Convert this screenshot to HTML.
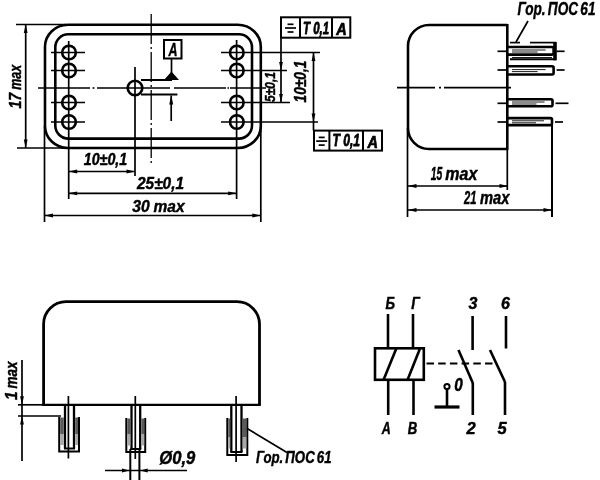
<!DOCTYPE html>
<html lang="ru">
<head>
<meta charset="utf-8">
<title>Габаритный чертёж реле</title>
<style>
html,body{margin:0;padding:0;background:#fff;}
body{width:600px;height:480px;overflow:hidden;}
svg{display:block;}
svg *{vector-effect:none;}
svg line,svg rect,svg circle,svg path{fill:none;stroke:#000;stroke-linecap:butt;}
svg .f{fill:#000;stroke:none;}
svg rect.h{fill:#5a5a5a;stroke:none;}
svg rect.h2{fill:#a8a8a8;stroke:none;}
svg text{font-family:"Liberation Sans",sans-serif;font-style:italic;fill:#000;stroke:#000;stroke-width:0.45px;stroke-linejoin:round;}
</style>
</head>
<body>
<svg width="600" height="480" viewBox="0 0 600 480">
<rect x="0" y="0" width="600" height="480" style="fill:#fff;stroke:none"/>
<g filter="url(#b)">
<!-- top view -->
<rect x="45" y="24.8" width="215.8" height="123.2" rx="23" ry="22" stroke-width="2.6"/>
<rect x="55.3" y="34.3" width="196.7" height="104.3" rx="13" ry="13" stroke-width="2.6"/>
<circle cx="69" cy="52.5" r="6.8" stroke-width="2.6"/>
<circle cx="69" cy="70.5" r="6.8" stroke-width="2.6"/>
<circle cx="69" cy="102.5" r="6.8" stroke-width="2.6"/>
<circle cx="69" cy="122" r="6.8" stroke-width="2.6"/>
<circle cx="236.8" cy="52.5" r="6.8" stroke-width="2.6"/>
<circle cx="236.8" cy="70.5" r="6.8" stroke-width="2.6"/>
<circle cx="236.8" cy="102.5" r="6.8" stroke-width="2.6"/>
<circle cx="236.8" cy="122" r="6.8" stroke-width="2.6"/>
<line x1="51" y1="52.5" x2="85" y2="52.5" stroke-width="1.7" />
<line x1="51" y1="70.5" x2="85" y2="70.5" stroke-width="1.7" />
<line x1="51" y1="102.5" x2="85" y2="102.5" stroke-width="1.7" />
<line x1="51" y1="122" x2="85" y2="122" stroke-width="1.7" />
<line x1="68.7" y1="41" x2="68.7" y2="178" stroke-width="1.7" />
<line x1="236.6" y1="40" x2="236.6" y2="199" stroke-width="1.7" />
<line x1="221" y1="52.5" x2="320" y2="52.5" stroke-width="1.7" />
<line x1="221" y1="70.5" x2="287" y2="70.5" stroke-width="1.7" />
<line x1="221" y1="102.5" x2="290" y2="102.5" stroke-width="1.7" />
<line x1="221" y1="122" x2="318" y2="122" stroke-width="1.7" />
<line x1="38" y1="88" x2="266" y2="88" stroke-width="1.3" stroke-dasharray="52 2.5 2 2.5 73 4 52 1.5 1.5 1 40"/>
<line x1="151.2" y1="14" x2="151.2" y2="164" stroke-width="1.3" stroke-dasharray="30 3 2 3"/>
<circle cx="135" cy="88" r="7.3" stroke-width="2.6"/>
<line x1="135" y1="67" x2="135" y2="176" stroke-width="1.7" />
<line x1="141" y1="80" x2="172" y2="80" stroke-width="2.0" />
<line x1="141" y1="94.4" x2="177.4" y2="94.4" stroke-width="2.0" />
<rect x="164" y="40" width="17.5" height="18.5" stroke-width="2.0"/>
<text x="173" y="55.5" font-size="18" text-anchor="middle" font-weight="bold" textLength="9" lengthAdjust="spacingAndGlyphs" >А</text>
<line x1="171.5" y1="58.5" x2="171.5" y2="73" stroke-width="1.7" />
<polygon class="f" points="171.5,71.5 164,80 179,80"/>
<line x1="171.2" y1="95.5" x2="171.2" y2="121" stroke-width="1.7" />
<polygon class="f" points="171.2,95.5 169.2,104.5 173.2,104.5"/>
<line x1="68.7" y1="171.5" x2="135" y2="171.5" stroke-width="1.7" />
<polygon class="f" points="68.7,171.5 77.2,169.6 77.2,173.4"/>
<polygon class="f" points="135,171.5 126.5,169.6 126.5,173.4"/>
<text x="83.75" y="164.5" font-size="16.5" text-anchor="start" font-weight="bold" textLength="43.5" lengthAdjust="spacingAndGlyphs" >10±0,1</text>
<line x1="68.7" y1="193.3" x2="236.6" y2="193.3" stroke-width="1.7" />
<polygon class="f" points="68.7,193.3 77.2,191.4 77.2,195.20000000000002"/>
<polygon class="f" points="236.6,193.3 228.1,191.4 228.1,195.20000000000002"/>
<line x1="68.7" y1="178" x2="68.7" y2="199" stroke-width="1.7" />
<text x="137" y="188.75" font-size="17" text-anchor="start" font-weight="bold" textLength="47" lengthAdjust="spacingAndGlyphs" >25±0,1</text>
<line x1="44.5" y1="215.5" x2="260.8" y2="215.5" stroke-width="1.7" />
<polygon class="f" points="44.5,215.5 53.0,213.6 53.0,217.4"/>
<polygon class="f" points="260.8,215.5 252.3,213.6 252.3,217.4"/>
<line x1="44.5" y1="126" x2="44.5" y2="222" stroke-width="1.7" />
<line x1="260.8" y1="120" x2="260.8" y2="222" stroke-width="1.7" />
<text x="132.2" y="211.5" font-size="17" text-anchor="start" font-weight="bold" textLength="17.5" lengthAdjust="spacingAndGlyphs" >30</text>
<text x="153.6" y="211.5" font-size="17" text-anchor="start" font-weight="bold" textLength="31" lengthAdjust="spacingAndGlyphs" >max</text>
<line x1="16" y1="24.5" x2="66" y2="24.5" stroke-width="1.7" />
<line x1="17" y1="148" x2="66" y2="148" stroke-width="1.7" />
<line x1="25.7" y1="24.5" x2="25.7" y2="148" stroke-width="1.7" />
<polygon class="f" points="25.7,24.5 23.8,33.0 27.599999999999998,33.0"/>
<polygon class="f" points="25.7,148 23.8,139.5 27.599999999999998,139.5"/>
<text x="21" y="108.6" font-size="16.5" text-anchor="start" font-weight="bold" textLength="15.5" lengthAdjust="spacingAndGlyphs" transform="rotate(-90 21 108.6)" >17</text>
<text x="21" y="89.8" font-size="16.5" text-anchor="start" font-weight="bold" textLength="25" lengthAdjust="spacingAndGlyphs" transform="rotate(-90 21 89.8)" >max</text>
<line x1="281" y1="38" x2="281" y2="102.5" stroke-width="1.7" />
<polygon class="f" points="281,70.5 279.1,62.0 282.9,62.0"/>
<polygon class="f" points="281,102.5 279.1,94.0 282.9,94.0"/>
<text x="274.7" y="102" font-size="14.5" text-anchor="start" font-weight="bold" textLength="30" lengthAdjust="spacingAndGlyphs" transform="rotate(-90 274.7 102)" >5±0,1</text>
<line x1="313.5" y1="52.5" x2="313.5" y2="130.5" stroke-width="1.7" />
<polygon class="f" points="313.5,52.5 311.6,61.0 315.4,61.0"/>
<polygon class="f" points="313.5,122 311.6,113.5 315.4,113.5"/>
<text x="305.6" y="102.5" font-size="16.5" text-anchor="start" font-weight="bold" textLength="42" lengthAdjust="spacingAndGlyphs" transform="rotate(-90 305.6 102.5)" >10±0,1</text>
<rect x="281" y="17.3" width="69.30000000000001" height="20.400000000000002" stroke-width="2.0"/>
<line x1="300" y1="17.3" x2="300" y2="37.7" stroke-width="2.0" />
<line x1="332" y1="17.3" x2="332" y2="37.7" stroke-width="2.0" />
<line x1="287.5" y1="24.3" x2="293.5" y2="24.3" stroke-width="1.7" />
<line x1="285.0" y1="28.0" x2="296.0" y2="28.0" stroke-width="1.7" />
<line x1="287.5" y1="32.0" x2="293.5" y2="32.0" stroke-width="1.7" />
<text x="316.0" y="33.5" font-size="16.5" text-anchor="middle" font-weight="bold" textLength="26" lengthAdjust="spacingAndGlyphs" style="stroke-width:0.8px">Т 0,1</text>
<text x="341.45" y="34.7" font-size="17.0" text-anchor="middle" font-weight="bold" textLength="10.5" lengthAdjust="spacingAndGlyphs" style="stroke-width:0.7px">А</text>
<rect x="314" y="130.6" width="68" height="20.0" stroke-width="2.0"/>
<line x1="329.4" y1="130.6" x2="329.4" y2="150.6" stroke-width="2.0" />
<line x1="363" y1="130.6" x2="363" y2="150.6" stroke-width="2.0" />
<line x1="318.7" y1="137.4" x2="324.7" y2="137.4" stroke-width="1.7" />
<line x1="316.2" y1="141.1" x2="327.2" y2="141.1" stroke-width="1.7" />
<line x1="318.7" y1="145.1" x2="324.7" y2="145.1" stroke-width="1.7" />
<text x="346.2" y="146.4" font-size="16.5" text-anchor="middle" font-weight="bold" textLength="27.600000000000023" lengthAdjust="spacingAndGlyphs" style="stroke-width:0.8px">Т 0,1</text>
<text x="372.8" y="147.6" font-size="17.0" text-anchor="middle" font-weight="bold" textLength="10.5" lengthAdjust="spacingAndGlyphs" style="stroke-width:0.7px">А</text>
<!-- side view -->
<path d="M507.3,25 H429 A21,21 0 0 0 408,46 V128 A21,21 0 0 0 429,149 H507.3" stroke-width="2.6"/>
<line x1="507.3" y1="24" x2="507.3" y2="150" stroke-width="2.6" />
<line x1="507.3" y1="150" x2="507.3" y2="190" stroke-width="1.7" />
<line x1="397" y1="87.6" x2="511" y2="87.6" stroke-width="1.8" stroke-dasharray="38 4 2 3 80"/>
<path d="M507.3,47.0 H552.1 a1.5,1.5 0 0 1 1.5,1.5 V53.099999999999994 a1.5,1.5 0 0 1 -1.5,1.5 H507.3" stroke-width="2.6"/>
<line x1="497.5" y1="51.3" x2="507" y2="51.3" stroke-width="1.7" />
<line x1="556.6" y1="51.3" x2="564.6" y2="51.3" stroke-width="1.7" />
<line x1="512" y1="50.0" x2="545.6" y2="50.0" stroke-width="0.9" stroke="#666"/>
<line x1="512" y1="52.0" x2="537.6" y2="52.0" stroke-width="0.9" stroke="#999"/>
<path d="M507.3,66.30000000000001 H552.1 a1.5,1.5 0 0 1 1.5,1.5 V73.0 a1.5,1.5 0 0 1 -1.5,1.5 H507.3" stroke-width="2.6"/>
<line x1="497.5" y1="70" x2="507" y2="70" stroke-width="1.7" />
<line x1="556.6" y1="70" x2="564.6" y2="70" stroke-width="1.7" />
<line x1="512" y1="69.60000000000001" x2="545.6" y2="69.60000000000001" stroke-width="0.9" stroke="#666"/>
<line x1="512" y1="71.60000000000001" x2="537.6" y2="71.60000000000001" stroke-width="0.9" stroke="#999"/>
<path d="M507.3,99.3 H551.0 a1.5,1.5 0 0 1 1.5,1.5 V104.8 a1.5,1.5 0 0 1 -1.5,1.5 H507.3" stroke-width="2.6"/>
<line x1="497.5" y1="103.3" x2="507" y2="103.3" stroke-width="1.7" />
<line x1="555.5" y1="103.3" x2="568.5" y2="103.3" stroke-width="1.7" />
<line x1="512" y1="102.0" x2="544.5" y2="102.0" stroke-width="0.9" stroke="#666"/>
<line x1="512" y1="104.0" x2="536.5" y2="104.0" stroke-width="0.9" stroke="#999"/>
<path d="M507.3,118.1 H550.5 a1.5,1.5 0 0 1 1.5,1.5 V123.6 a1.5,1.5 0 0 1 -1.5,1.5 H507.3" stroke-width="2.6"/>
<line x1="497.5" y1="122" x2="507" y2="122" stroke-width="1.7" />
<line x1="555" y1="122" x2="563" y2="122" stroke-width="1.7" />
<line x1="512" y1="120.8" x2="544" y2="120.8" stroke-width="0.9" stroke="#666"/>
<line x1="512" y1="122.8" x2="536" y2="122.8" stroke-width="0.9" stroke="#999"/>
<line x1="510" y1="42.6" x2="520" y2="42.6" stroke-width="1.7" />
<line x1="530" y1="42.6" x2="556" y2="42.6" stroke-width="1.7" />
<line x1="555" y1="42" x2="555" y2="60.3" stroke-width="3.6" />
<line x1="512" y1="57.6" x2="552" y2="57.6" stroke-width="1.0" stroke="#888"/>
<line x1="510" y1="59.3" x2="556" y2="59.3" stroke-width="2.0" />
<line x1="552" y1="122" x2="552" y2="217" stroke-width="2.0" />
<line x1="528" y1="21" x2="516" y2="42" stroke-width="1.7" />
<text x="517.5" y="15" font-size="18.5" text-anchor="start" font-weight="bold" textLength="78" lengthAdjust="spacingAndGlyphs" word-spacing="-2">Гор. ПОС 61</text>
<line x1="407.5" y1="128" x2="407.5" y2="217" stroke-width="1.7" />
<line x1="408" y1="186" x2="508" y2="186" stroke-width="1.7" />
<polygon class="f" points="408,186 416.5,184.1 416.5,187.9"/>
<polygon class="f" points="508,186 499.5,184.1 499.5,187.9"/>
<text x="430.7" y="179.5" font-size="17.5" text-anchor="start" font-weight="bold" textLength="11.5" lengthAdjust="spacingAndGlyphs" >15</text>
<text x="445.3" y="179.5" font-size="17.5" text-anchor="start" font-weight="bold" textLength="32" lengthAdjust="spacingAndGlyphs" >max</text>
<line x1="408" y1="210" x2="552" y2="210" stroke-width="1.7" />
<polygon class="f" points="408,210 416.5,208.1 416.5,211.9"/>
<polygon class="f" points="552,210 543.5,208.1 543.5,211.9"/>
<text x="464" y="203.5" font-size="17.5" text-anchor="start" font-weight="bold" textLength="12.5" lengthAdjust="spacingAndGlyphs" >21</text>
<text x="480" y="203.5" font-size="17.5" text-anchor="start" font-weight="bold" textLength="29.5" lengthAdjust="spacingAndGlyphs" >max</text>
<!-- front view -->
<path d="M43.6,405.5 V324 A22.5,22.3 0 0 1 66.1,301.7 H237 A22.5,22.5 0 0 1 259.5,324.5 V405.5" stroke-width="2.8"/>
<line x1="42.5" y1="404.8" x2="260.6" y2="404.8" stroke-width="2.2" />
<line x1="18" y1="404.8" x2="44" y2="404.8" stroke-width="1.7" />
<line x1="18" y1="416" x2="61" y2="416" stroke-width="1.7" />
<line x1="22" y1="360" x2="22" y2="461" stroke-width="1.7" />
<polygon class="f" points="22,404.8 20.1,396.3 23.9,396.3"/>
<polygon class="f" points="22,416 20.1,424.5 23.9,424.5"/>
<text x="17" y="400" font-size="16.5" text-anchor="start" font-weight="bold" textLength="8.5" lengthAdjust="spacingAndGlyphs" transform="rotate(-90 17 400)" >1</text>
<text x="17" y="388.5" font-size="16.5" text-anchor="start" font-weight="bold" textLength="27" lengthAdjust="spacingAndGlyphs" transform="rotate(-90 17 388.5)" >max</text>
<line x1="65" y1="405" x2="65" y2="448.5" stroke-width="2.3" />
<line x1="74" y1="405" x2="74" y2="448.5" stroke-width="2.3" />
<line x1="64" y1="448.5" x2="75" y2="448.5" stroke-width="2.0" />
<path d="M59.2,417 V451.5 H79 V417" stroke-width="2.0"/>
<rect class="h" x="60.2" y="417.5" width="3.5999999999999943" height="16.5"/>
<rect class="h" x="75.2" y="417.5" width="2.8" height="16.5"/>
<rect class="h2" x="60.2" y="434.0" width="3.5999999999999943" height="11"/>
<rect class="h2" x="75.2" y="434.0" width="2.8" height="11"/>
<line x1="68.4" y1="396" x2="68.4" y2="458.5" stroke-width="1.7" />
<line x1="131.5" y1="405" x2="131.5" y2="449" stroke-width="2.3" />
<line x1="140.2" y1="405" x2="140.2" y2="449" stroke-width="2.3" />
<line x1="130.5" y1="449" x2="141.2" y2="449" stroke-width="2.0" />
<path d="M126.3,418 V452 H145.2 V418" stroke-width="2.0"/>
<rect class="h" x="127.3" y="418.5" width="3.000000000000014" height="16"/>
<rect class="h" x="141.39999999999998" y="418.5" width="2.8" height="16"/>
<rect class="h2" x="127.3" y="434.5" width="3.000000000000014" height="11"/>
<rect class="h2" x="141.39999999999998" y="434.5" width="2.8" height="11"/>
<line x1="135.3" y1="396" x2="135.3" y2="459" stroke-width="1.7" />
<line x1="231.3" y1="405" x2="231.3" y2="452" stroke-width="2.3" />
<line x1="241.5" y1="405" x2="241.5" y2="452" stroke-width="2.3" />
<line x1="230.3" y1="452" x2="242.5" y2="452" stroke-width="2.0" />
<path d="M227.3,418 V455 H247.3 V418" stroke-width="2.0"/>
<rect class="h" x="228.3" y="418.5" width="1.8000000000000114" height="19"/>
<rect class="h" x="242.7" y="418.5" width="3.600000000000011" height="19"/>
<rect class="h2" x="228.3" y="437.5" width="1.8000000000000114" height="11"/>
<rect class="h2" x="242.7" y="437.5" width="3.600000000000011" height="11"/>
<line x1="236.1" y1="396" x2="236.1" y2="462" stroke-width="1.7" />
<line x1="130.3" y1="449" x2="130.3" y2="480" stroke-width="2.0" />
<line x1="139.4" y1="449" x2="139.4" y2="480" stroke-width="2.0" />
<line x1="105" y1="470.5" x2="187" y2="470.5" stroke-width="1.7" />
<polygon class="f" points="129.5,470.5 122.0,468.4 122.0,472.6"/>
<polygon class="f" points="140.2,470.5 147.7,468.4 147.7,472.6"/>
<text x="159.3" y="463.5" font-size="18" text-anchor="start" font-weight="bold" textLength="36" lengthAdjust="spacingAndGlyphs" >Ø0,9</text>
<line x1="246.7" y1="428.3" x2="287" y2="452.5" stroke-width="1.7" />
<text x="256" y="463.3" font-size="17" text-anchor="start" font-weight="bold" textLength="75.5" lengthAdjust="spacingAndGlyphs" word-spacing="-2">Гор. ПОС 61</text>
<!-- schematic -->
<rect x="375" y="348.3" width="48.8" height="31.5" stroke-width="2.6"/>
<line x1="383.5" y1="380" x2="396.3" y2="348.5" stroke-width="2.6" />
<line x1="407.5" y1="380" x2="419.8" y2="349" stroke-width="2.6" />
<line x1="388" y1="314" x2="388" y2="348" stroke-width="2.6" />
<line x1="413" y1="314" x2="413" y2="348" stroke-width="2.6" />
<line x1="388.2" y1="380" x2="388.2" y2="415" stroke-width="2.6" />
<line x1="413.5" y1="380" x2="413.5" y2="415" stroke-width="2.6" />
<text x="390.2" y="308.7" font-size="16" text-anchor="middle" font-weight="bold" textLength="9.5" lengthAdjust="spacingAndGlyphs" >Б</text>
<text x="415.5" y="308.7" font-size="16" text-anchor="middle" font-weight="bold" textLength="8.5" lengthAdjust="spacingAndGlyphs" >Г</text>
<text x="386.2" y="434" font-size="16.5" text-anchor="middle" font-weight="bold" textLength="9" lengthAdjust="spacingAndGlyphs" >А</text>
<text x="412.5" y="434" font-size="16.5" text-anchor="middle" font-weight="bold" textLength="9.5" lengthAdjust="spacingAndGlyphs" >В</text>
<line x1="426.5" y1="363.5" x2="497" y2="363.5" stroke-width="2.2" stroke-dasharray="7.5 4.2"/>
<line x1="472.6" y1="316" x2="472.6" y2="350" stroke-width="2.6" />
<line x1="458.5" y1="350" x2="472.8" y2="383" stroke-width="2.6" />
<line x1="472.8" y1="382.5" x2="472.8" y2="415" stroke-width="2.6" />
<line x1="506" y1="316" x2="506" y2="348.5" stroke-width="2.6" />
<line x1="490" y1="350" x2="505" y2="382" stroke-width="2.6" />
<line x1="505" y1="382" x2="505" y2="415" stroke-width="2.6" />
<text x="473" y="308.7" font-size="16" text-anchor="middle" font-weight="bold" >3</text>
<text x="505.4" y="308.7" font-size="16" text-anchor="middle" font-weight="bold" >6</text>
<text x="471" y="434" font-size="16.5" text-anchor="middle" font-weight="bold" >2</text>
<text x="502.2" y="434" font-size="16.5" text-anchor="middle" font-weight="bold" >5</text>
<line x1="434.5" y1="407" x2="459.5" y2="407" stroke-width="3.2" />
<line x1="447" y1="389" x2="447" y2="407" stroke-width="2.6" />
<circle cx="447" cy="386.5" r="2.6" stroke-width="2.0"/>
<text x="458.6" y="391.2" font-size="18" text-anchor="middle" font-weight="bold" textLength="8.5" lengthAdjust="spacingAndGlyphs" >0</text>
</g>
<defs><filter id="b" x="0" y="0" width="600" height="480" filterUnits="userSpaceOnUse"><feGaussianBlur stdDeviation="0.55"/></filter></defs>
</svg>
</body>
</html>
